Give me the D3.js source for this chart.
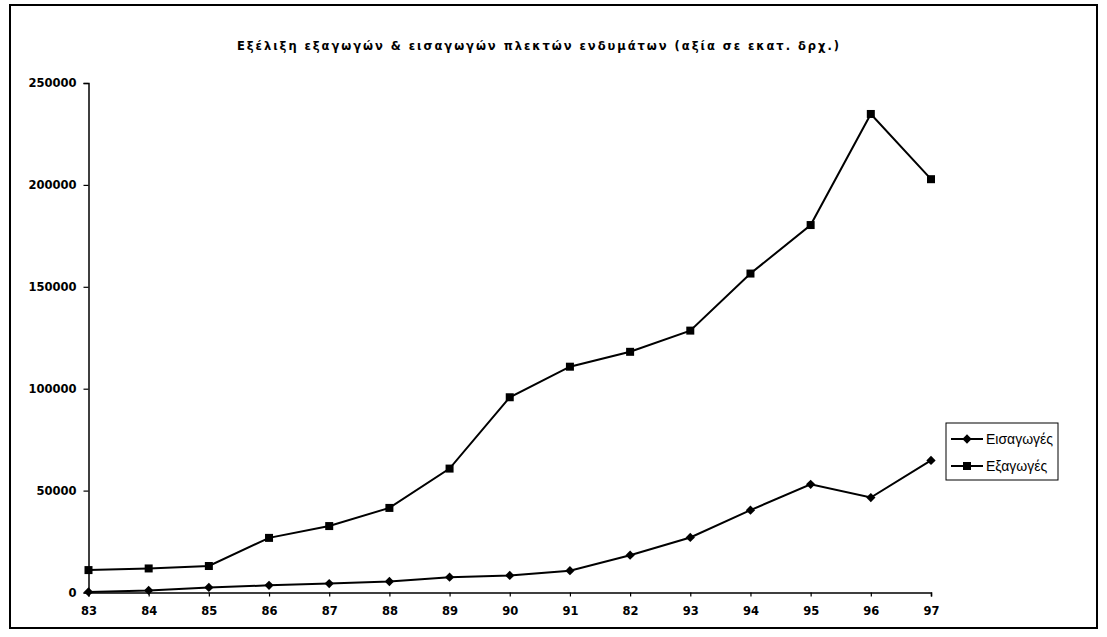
<!DOCTYPE html>
<html>
<head>
<meta charset="utf-8">
<script src="https://cdn.jsdelivr.net/npm/d3@7/dist/d3.min.js"></script>
<style>
  html, body { margin: 0; padding: 0; background: #fff; }
  svg { display: block; }
</style>
</head>
<body>
<svg id="chart" width="1107" height="637"></svg>
<script>
// ---- data ----
const title = "Εξέλιξη εξαγωγών & εισαγωγών πλεκτών ενδυμάτων (αξία σε εκατ. δρχ.)";
const categories = ["83","84","85","86","87","88","89","90","91","82","93","94","95","96","97"];
const imports = [300, 1000, 2500, 3500, 4400, 5400, 7500, 8400, 10700, 18300, 27000, 40400, 53100, 46600, 64800];
const exportsV = [11000, 11800, 13000, 26800, 32600, 41500, 60800, 95800, 110800, 118100, 128500, 156500, 180300, 234800, 202800];
const yTicks = [0, 50000, 100000, 150000, 200000, 250000];
const seriesNames = ["Εισαγωγές", "Εξαγωγές"];

const svg = d3.select("#chart");
const font = "'Liberation Sans', Arial, sans-serif";
const boldFont = "'DejaVu Sans', Verdana, sans-serif";

// outer frame
svg.append("rect").attr("x", 10).attr("y", 5).attr("width", 1087).attr("height", 623)
  .attr("fill", "none").attr("stroke", "#000").attr("stroke-width", 2);

// title
svg.append("text").attr("x", 237).attr("y", 50)
  .attr("textLength", 602).attr("lengthAdjust", "spacing")
  .attr("font-family", boldFont).attr("font-weight", "bold").attr("font-size", 11.5)
  .attr("fill", "#000").text(title);

const x = d3.scalePoint().domain(categories).range([88.5, 931]);
const y = d3.scaleLinear().domain([0, 250000]).range([592.5, 83]);

// y axis
const yAxis = svg.append("g").attr("transform", "translate(88.5,0)")
  .call(d3.axisLeft(y).tickValues(yTicks).tickSize(5).tickPadding(7).tickFormat(d3.format("d")));
yAxis.select(".domain").attr("stroke", "#000").attr("stroke-width", 1.5);
yAxis.selectAll(".tick line").attr("stroke", "#000").attr("stroke-width", 1.2);
yAxis.selectAll("text").attr("font-family", boldFont).attr("font-weight", "bold")
  .attr("font-size", 11.5).attr("fill", "#000");

// x axis
const xAxis = svg.append("g").attr("transform", "translate(0,592.5)")
  .call(d3.axisBottom(x).tickSize(4).tickSizeOuter(4).tickPadding(10));
xAxis.select(".domain").attr("stroke", "#000").attr("stroke-width", 1.5);
xAxis.selectAll(".tick line").attr("stroke", "#000").attr("stroke-width", 1.2);
xAxis.selectAll("text").attr("font-family", boldFont).attr("font-weight", "bold")
  .attr("font-size", 11.5).attr("fill", "#000");

const line = d3.line().x((d, i) => x(categories[i])).y(d => y(d));

// imports line (diamonds)
svg.append("path").datum(imports).attr("d", line)
  .attr("fill", "none").attr("stroke", "#000").attr("stroke-width", 2);
const diamond = d3.symbol().type(d3.symbolDiamond2).size(55);
svg.append("g").selectAll("path").data(imports).join("path")
  .attr("d", diamond)
  .attr("transform", (d, i) => `translate(${x(categories[i])},${y(d)})`)
  .attr("fill", "#000");

// exports line (squares)
svg.append("path").datum(exportsV).attr("d", line)
  .attr("fill", "none").attr("stroke", "#000").attr("stroke-width", 2);
svg.append("g").selectAll("rect").data(exportsV).join("rect")
  .attr("x", (d, i) => x(categories[i]) - 4).attr("y", d => y(d) - 4)
  .attr("width", 8).attr("height", 8).attr("fill", "#000");

// legend
const lg = svg.append("g").attr("transform", "translate(946,423)");
lg.append("rect").attr("x", 0).attr("y", 0).attr("width", 112).attr("height", 57)
  .attr("fill", "#fff").attr("stroke", "#000").attr("stroke-width", 1);
seriesNames.forEach((name, i) => {
  const cy = 16 + i * 27;
  lg.append("line").attr("x1", 5).attr("x2", 37).attr("y1", cy).attr("y2", cy)
    .attr("stroke", "#000").attr("stroke-width", 2);
  if (i === 0) {
    lg.append("path").attr("d", diamond).attr("transform", `translate(21,${cy})`).attr("fill", "#000");
  } else {
    lg.append("rect").attr("x", 17).attr("y", cy - 4).attr("width", 8).attr("height", 8).attr("fill", "#000");
  }
  lg.append("text").attr("x", 40).attr("y", cy + 5)
    .attr("font-family", font).attr("font-size", 14).attr("fill", "#000").text(name);
});
</script>
</body>
</html>
